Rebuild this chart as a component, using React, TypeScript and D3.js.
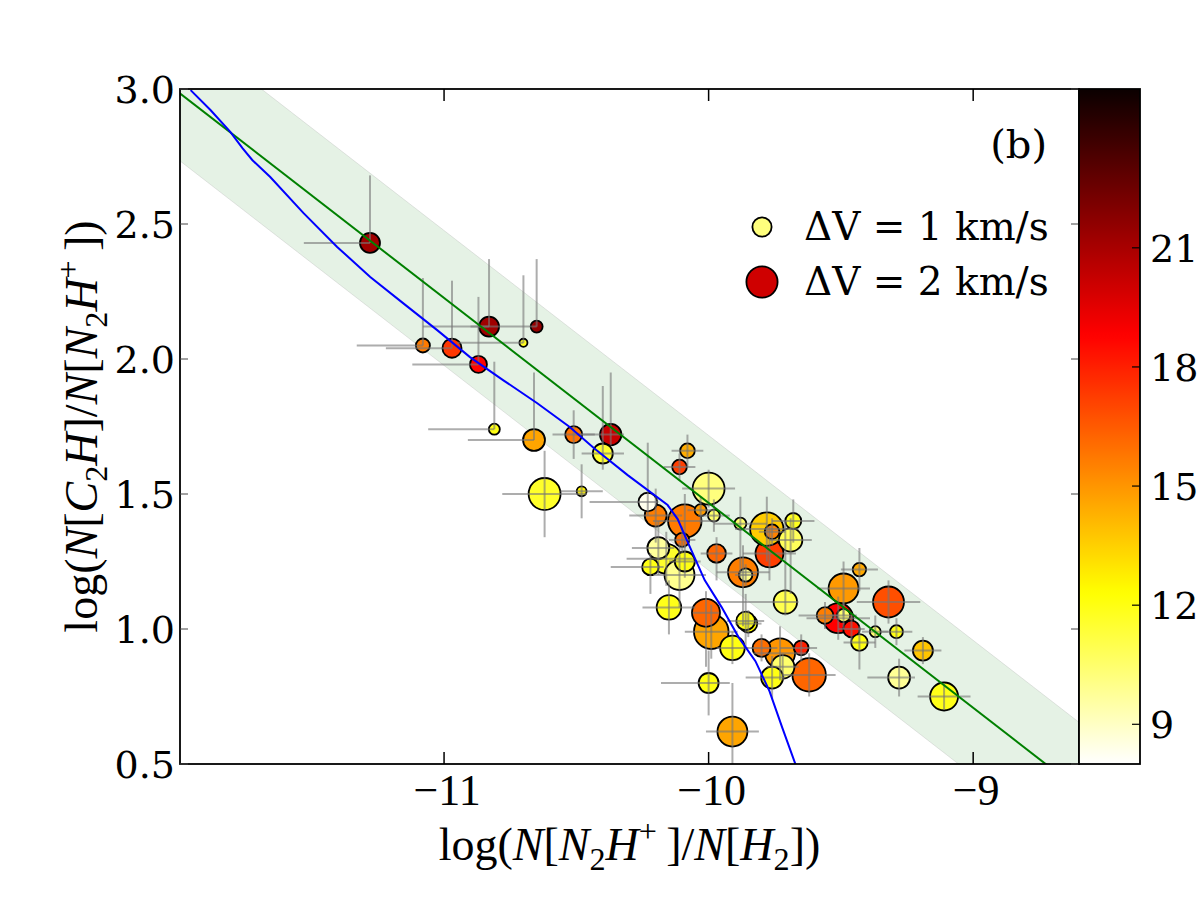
import React, { useEffect, useRef } from 'react';
import * as d3 from 'd3';

// scatter points, listed in drawing order
const ptX = [-9.99, -10.09, -9.62, -9.77, -9.78, -10.0, -10.62, -9.32, -10.16, -10.11, -9.87, -9.49, -9.51, -9.73, -9.91,
  -10.01, -9.11, -9.91, -10.15, -9.69, -9.71, -9.72, -10.2, -10.19, -10.66, -9.76, -9.28, -10.37, -11.28, -10.83, -10.4,
  -10.09, -10.0, -9.19, -10.97, -10.23, -9.97, -9.85, -9.86, -9.8, -10.87, -10.51, -9.56, -9.46, -10.22, -9.43, -9.68,
  -10.11, -10.08, -9.76, -9.65, -11.08, -10.1, -9.86, -9.43, -9.49, -9.29, -10.65, -10.03, -9.98, -9.88, -10.81, -9.37,
  -10.48, -10.7];
const ptY = [0.99, 1.4, 0.83, 1.28, 1.37, 1.52, 1.5, 1.1, 1.26, 1.2, 1.21, 1.15, 1.04, 0.91, 0.62,
  1.06, 0.75, 0.93, 1.08, 1.33, 1.1, 0.86, 1.42, 1.3, 1.7, 0.82, 0.82, 1.72, 2.43, 2.12, 1.65,
  1.25, 0.8, 0.92, 2.04, 1.47, 1.28, 1.02, 1.03, 0.93, 1.98, 1.72, 1.05, 1.0, 1.23, 0.95, 1.4,
  1.6, 1.66, 1.36, 0.93, 2.05, 1.33, 1.2, 1.22, 1.05, 0.99, 2.12, 1.44, 1.42, 1.39, 1.74, 0.99,
  1.51, 2.06];
// line width dV (km/s) -> marker size
const ptDV = [2.32, 2.21, 2.21, 1.71, 2.21, 2.07, 2.07, 1.98, 1.89, 1.89, 1.89, 1.89, 1.89, 1.89, 1.89,
  1.71, 1.71, 1.42, 1.42, 1.33, 1.33, 1.33, 1.21, 1.21, 1.21, 1.21, 1.21, 1.17, 1.06, 1.06, 1.06,
  1.06, 1.06, 1.06, 0.99, 0.96, 0.96, 0.91, 0.96, 0.91, 0.84, 0.84, 0.81, 0.81, 0.81, 0.81, 0.77,
  0.68, 0.68, 0.68, 0.68, 0.64, 0.64, 0.6, 0.6, 0.6, 0.57, 0.51, 0.51, 0.51, 0.51, 0.45, 0.45,
  0.39, 0.29];
// colour-bar quantity
const ptT = [14.6, 15.7, 16.2, 17.2, 13.6, 10.2, 11.6, 16.8, 11.6, 9.9, 15.6, 14.9, 18.8, 15.0, 14.6,
  16.2, 11.9, 12.0, 11.9, 10.8, 11.0, 10.5, 15.6, 9.7, 14.6, 12.0, 9.8, 20.2, 21.2, 21.2, 11.5,
  12.0, 12.0, 13.8, 17.4, 8.3, 16.2, 12.3, 11.9, 16.0, 18.7, 15.9, 15.6, 18.4, 12.0, 12.0, 11.8,
  17.2, 14.4, 15.5, 18.0, 15.7, 16.0, 10.0, 14.5, 10.5, 12.0, 21.5, 14.8, 10.5, 10.5, 12.0, 10.5,
  12.6, 11.8];
// error bars [x-, x+, y-, y+]
const ptErr = [
  [0.1, 0.1, 0.1, 0.1], [0.12, 0.12, 0.1, 0.1], [0.1, 0.1, 0.08, 0.08], [0.1, 0.1, 0.1, 0.1], [0.12, 0.12, 0.12, 0.12],
  [0.1, 0.1, 0.07, 0.07], [0.16, 0.16, 0.16, 0.16], [0.12, 0.12, 0.08, 0.08], [0.15, 0.1, 0.1, 0.1], [0.1, 0.1, 0.12, 0.12],
  [0.1, 0.1, 0.2, 0.1], [0.1, 0.1, 0.1, 0.1], [0.12, 0.12, 0.08, 0.08], [0.1, 0.1, 0.1, 0.1], [0.1, 0.1, 0.2, 0.18],
  [0.05, 0.05, 0.2, 0.08], [0.1, 0.1, 0.05, 0.05], [0.06, 0.06, 0.06, 0.06], [0.1, 0.1, 0.1, 0.1], [0.08, 0.08, 0.2, 0.08],
  [0.25, 0.05, 0.05, 0.3], [0.06, 0.06, 0.05, 0.05], [0.1, 0.1, 0.1, 0.1], [0.1, 0.06, 0.1, 0.1], [0.25, 0, 0, 0.25],
  [0.1, 0.05, 0.08, 0.08], [0.12, 0.06, 0.07, 0.07], [0.13, 0.05, 0.04, 0.23], [0.25, 0, 0, 0.25], [0.25, 0, 0, 0.25],
  [0.08, 0.08, 0.06, 0.25], [0.06, 0.06, 0.06, 0.06], [0.18, 0.08, 0.12, 0.12], [0.07, 0.07, 0.05, 0.05], [0.25, 0, 0, 0.25],
  [0.22, 0.04, 0.05, 0.22], [0.06, 0.06, 0.1, 0.06], [0.05, 0.05, 0.05, 0.05], [0.07, 0.07, 0.1, 0.1], [0.06, 0.06, 0.05, 0.05],
  [0.25, 0, 0, 0.25], [0.08, 0.08, 0.09, 0.09], [0.1, 0.05, 0.05, 0.05], [0.05, 0.05, 0.05, 0.05], [0.15, 0.05, 0.1, 0.05],
  [0.06, 0.06, 0.1, 0.06], [0.08, 0.08, 0.08, 0.08], [0.06, 0.06, 0.05, 0.05], [0.06, 0.06, 0.06, 0.06], [0.05, 0.05, 0.05, 0.05],
  [0.08, 0.06, 0.05, 0.05], [0.25, 0, 0, 0.25], [0.05, 0.05, 0.05, 0.05], [0.04, 0.04, 0.04, 0.04], [0.07, 0.07, 0.08, 0.08],
  [0.05, 0.05, 0.05, 0.05], [0.06, 0.06, 0.05, 0.05], [0.25, 0, 0, 0.25], [0.05, 0.05, 0.05, 0.05], [0.06, 0.06, 0.06, 0.06],
  [0.1, 0.1, 0.2, 0.1], [0.25, 0, 0, 0.25], [0.05, 0.05, 0.06, 0.06], [0.08, 0.08, 0.1, 0.1], [0.25, 0, 0, 0.25],
];

// model curve (blue)
const curveX = [-11.958, -11.883, -11.808, -11.762, -11.725, -11.657, -11.532, -11.404, -11.279, -11.155, -11.026,
  -10.902, -10.777, -10.649, -10.525, -10.434, -10.306, -10.155, -10.117, -10.079, -10.015, -9.951, -9.887, -9.823,
  -9.77, -9.721, -9.664];
const curveY = [2.996, 2.922, 2.841, 2.781, 2.737, 2.674, 2.541, 2.415, 2.304, 2.207, 2.107,
  2.007, 1.922, 1.837, 1.748, 1.67, 1.57, 1.459, 1.407, 1.322, 1.181, 1.081, 0.97, 0.881,
  0.77, 0.633, 0.478];

// linear fit (green) with +/- band
const fitSlope = -0.759;
const fitIntercept = -6.123;
const fitHalfWidth = 0.25;

const xTicks = [-11, -10, -9];
const yTicks = [0.5, 1.0, 1.5, 2.0, 2.5, 3.0];
const cbTicks = [9, 12, 15, 18, 21];
const legendDV = [1, 2];
const legendT = [10.2, 20.0];
const legendText = ['ΔV = 1 km/s', 'ΔV = 2 km/s'];

type Part = [string, 'rm' | 'it' | 'sub' | 'sup'];
const xLabelParts: Part[] = [['log(', 'rm'], ['N', 'it'], ['[', 'rm'], ['N', 'it'], ['2', 'sub'], ['H', 'it'], ['+', 'sup'],
  ['\u2009]/', 'rm'], ['N', 'it'], ['[', 'rm'], ['H', 'it'], ['2', 'sub'], ['])', 'rm']];
const yLabelParts: Part[] = [['log(', 'rm'], ['N', 'it'], ['[', 'rm'], ['C', 'it'], ['2', 'sub'], ['H', 'it'], [']/', 'rm'],
  ['N', 'it'], ['[', 'rm'], ['N', 'it'], ['2', 'sub'], ['H', 'it'], ['+', 'sup'], ['\u2009])', 'rm']];

// matplotlib 'hot'
function hot(s: number) {
  const r = s < 0.365079 ? 0.0416 + (1 - 0.0416) * s / 0.365079 : 1;
  const g = s < 0.365079 ? 0 : s < 0.746032 ? (s - 0.365079) / (0.746032 - 0.365079) : 1;
  const b = s < 0.746032 ? 0 : (s - 0.746032) / (1 - 0.746032);
  return d3.rgb(r * 255, g * 255, b * 255).formatHex();
}

function mathText(sel: any, parts: Part[], fs: number) {
  let shift = 0;
  parts.forEach(([t, kind]) => {
    const target = kind === 'sub' ? fs * 0.22 : kind === 'sup' ? -fs * 0.4 : 0;
    sel.append('tspan')
      .attr('dy', target - shift)
      .attr('font-size', kind === 'sub' || kind === 'sup' ? fs * 0.7 : fs)
      .attr('font-style', kind === 'it' ? 'italic' : 'normal')
      .text(t);
    shift = target;
  });
}

export default function App() {
  const svgRef = useRef<SVGSVGElement>(null);

  useEffect(() => {
    const svg = d3.select(svgRef.current);
    svg.selectAll('*').remove();

    const L = 180, R = 1079, T = 89, B = 764;
    const x = d3.scaleLinear().domain([-12, -8.6]).range([L - 0.5, R]);
    const y = d3.scaleLinear().domain([0.5, 3.0]).range([B, T]);
    const rScale = d3.scalePow().exponent(0.7).domain([0, 1]).range([0, 9.6]);
    const cDomain = [8, 25];
    const cmap = (v: number) => hot(1 - Math.max(0, Math.min(1, (v - cDomain[0]) / (cDomain[1] - cDomain[0]))));

    svg.append('rect').attr('width', 1200).attr('height', 900).attr('fill', '#fff');

    const defs = svg.append('defs');
    defs.append('clipPath').attr('id', 'plot-clip').append('rect')
      .attr('x', L).attr('y', T).attr('width', R - L).attr('height', B - T);

    const g = svg.append('g').attr('clip-path', 'url(#plot-clip)');

    // band around the fit
    const xs = x.domain();
    const band = d3.area<number>()
      .x(d => x(d))
      .y0(d => y(fitIntercept + fitSlope * d - fitHalfWidth))
      .y1(d => y(fitIntercept + fitSlope * d + fitHalfWidth));
    g.append('path').datum(xs).attr('d', band)
      .attr('fill', 'green').attr('fill-opacity', 0.1)
      .attr('stroke', '#888').attr('stroke-opacity', 0.2).attr('stroke-width', 1);

    const idx = d3.range(ptX.length);

    // scatter
    g.selectAll('.pt').data(idx).join('circle').attr('class', 'pt')
      .attr('cx', i => x(ptX[i])).attr('cy', i => y(ptY[i]))
      .attr('r', i => rScale(ptDV[i]))
      .attr('fill', i => cmap(ptT[i]))
      .attr('stroke', '#000').attr('stroke-width', 1.8);

    // error bars
    const eg = g.append('g').attr('stroke', '#777').attr('stroke-opacity', 0.6).attr('stroke-width', 2);
    idx.forEach(i => {
      const [xl, xh, yl, yh] = ptErr[i];
      if (xl + xh > 0) eg.append('line')
        .attr('x1', x(ptX[i] - xl)).attr('x2', x(ptX[i] + xh))
        .attr('y1', y(ptY[i])).attr('y2', y(ptY[i]));
      if (yl + yh > 0) eg.append('line')
        .attr('x1', x(ptX[i])).attr('x2', x(ptX[i]))
        .attr('y1', y(ptY[i] - yl)).attr('y2', y(ptY[i] + yh));
    });

    // fit line
    const line = d3.line<number>().x(d => x(d)).y(d => y(fitIntercept + fitSlope * d));
    g.append('path').datum(xs).attr('d', line)
      .attr('fill', 'none').attr('stroke', '#008000').attr('stroke-width', 2);

    // model curve
    const curve = d3.line<number>().x(i => x(curveX[i])).y(i => y(curveY[i]));
    g.append('path').datum(d3.range(curveX.length)).attr('d', curve)
      .attr('fill', 'none').attr('stroke', '#0000ff').attr('stroke-width', 2);

    // frame + ticks
    svg.append('rect').attr('x', L).attr('y', T).attr('width', R - L).attr('height', B - T)
      .attr('fill', 'none').attr('stroke', '#000').attr('stroke-width', 1.8);

    const ax = svg.append('g').attr('stroke', '#000').attr('stroke-width', 1.5);
    xTicks.forEach(t => {
      ax.append('line').attr('x1', x(t)).attr('x2', x(t)).attr('y1', B).attr('y2', B - 12);
      ax.append('line').attr('x1', x(t)).attr('x2', x(t)).attr('y1', T).attr('y2', T + 12);
    });
    yTicks.forEach(t => {
      ax.append('line').attr('x1', L).attr('x2', L + 8).attr('y1', y(t)).attr('y2', y(t)).attr('stroke', '#444').attr('stroke-width', 1);
      ax.append('line').attr('x1', R).attr('x2', R - 8).attr('y1', y(t)).attr('y2', y(t)).attr('stroke', '#444').attr('stroke-width', 1);
    });

    svg.append('g').selectAll('text').data(xTicks).join('text')
      .attr('x', t => x(t) + 3).attr('y', 805)
      .attr('text-anchor', 'middle').attr('font-family', '"Liberation Serif", serif').attr('font-size', 44)
      .text(t => '\u2212' + Math.abs(t));

    svg.append('g').selectAll('text').data(yTicks).join('text')
      .attr('x', 175).attr('y', t => y(t) + 13.5)
      .attr('text-anchor', 'end').attr('font-family', '"DejaVu Serif", serif').attr('font-size', 38)
      .text(t => t.toFixed(1));

    // axis labels
    const xl = svg.append('text').attr('x', (L + R) / 2).attr('y', 860)
      .attr('text-anchor', 'middle').attr('font-family', '"Liberation Serif", serif');
    mathText(xl, xLabelParts, 46);

    const yl = svg.append('text').attr('transform', `translate(97,${(T + B) / 2}) rotate(-90)`)
      .attr('text-anchor', 'middle').attr('font-family', '"Liberation Serif", serif');
    mathText(yl, yLabelParts, 46);

    // panel tag
    svg.append('text').attr('x', 1047).attr('y', 158).attr('text-anchor', 'end')
      .attr('font-family', '"DejaVu Serif", serif').attr('font-size', 40).text('(b)');

    // legend
    legendDV.forEach((dv, i) => {
      const cy = 227 + i * 55;
      svg.append('circle').attr('cx', 762).attr('cy', cy).attr('r', rScale(dv))
        .attr('fill', cmap(legendT[i])).attr('stroke', '#000').attr('stroke-width', 1.8);
      svg.append('text').attr('x', 804).attr('y', cy + 12.5)
        .attr('font-family', '"DejaVu Serif", serif').attr('font-size', 39).text(legendText[i]);
    });

    // colour bar
    const cbL = 1079, cbR = 1140;
    const cy = d3.scaleLinear().domain(cDomain).range([B, T]);
    const grad = defs.append('linearGradient').attr('id', 'cb-grad')
      .attr('x1', 0).attr('y1', 1).attr('x2', 0).attr('y2', 0);
    d3.range(0, 1.0001, 0.01).forEach(t => {
      grad.append('stop').attr('offset', t).attr('stop-color', cmap(cDomain[0] + t * (cDomain[1] - cDomain[0])));
    });
    svg.append('rect').attr('x', cbL).attr('y', T).attr('width', cbR - cbL).attr('height', B - T)
      .attr('fill', 'url(#cb-grad)').attr('stroke', '#000').attr('stroke-width', 1.8);
    cbTicks.forEach(t => {
      svg.append('line').attr('x1', cbR).attr('x2', cbR - 8).attr('y1', cy(t)).attr('y2', cy(t))
        .attr('stroke', '#000').attr('stroke-width', 1.2);
      svg.append('text').attr('x', 1150).attr('y', cy(t) + 14)
        .attr('font-family', '"DejaVu Serif", serif').attr('font-size', 38).text(String(t));
    });
  }, []);

  return (
    <div style={{ position: 'absolute', left: 0, top: 0 }}>
      <svg ref={svgRef} width={1200} height={900} style={{ display: 'block' }} />
    </div>
  );
}
